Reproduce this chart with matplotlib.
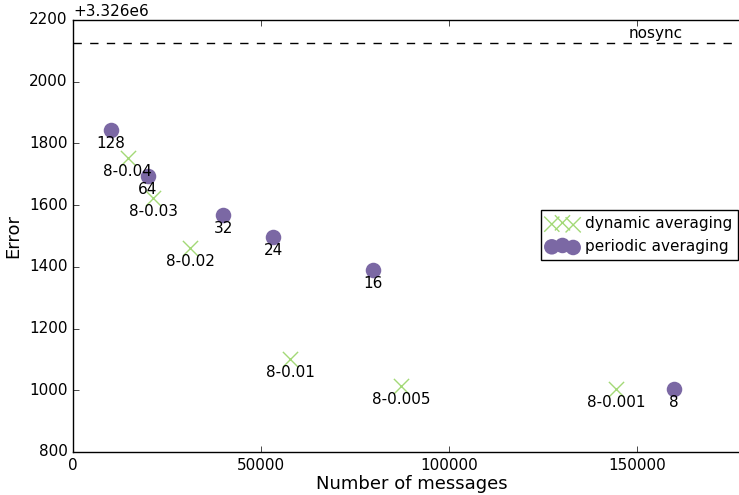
import matplotlib
matplotlib.use("Agg")
import matplotlib.pyplot as plt

plt.style.use("classic")
plt.rcParams["font.family"] = ["DejaVu Sans"]

OFFSET = 3326000

# periodic averaging: (messages, error, label)
periodic_msgs = [10000, 19900, 39900, 53200, 79800, 159800]
periodic_err = [OFFSET + v for v in [1844, 1695, 1568, 1497, 1390, 1004]]
periodic_labels = ["128", "64", "32", "24", "16", "8"]

# dynamic averaging
dynamic_msgs = [14600, 21300, 31100, 57700, 87200, 144400]
dynamic_err = [OFFSET + v for v in [1753, 1623, 1461, 1102, 1014, 1004]]
dynamic_labels = ["8-0.04", "8-0.03", "8-0.02", "8-0.01", "8-0.005", "8-0.001"]

nosync_err = OFFSET + 2126

purple = "#7b68a4"
green = "#a3d977"

fig = plt.figure(figsize=(7.39, 4.95), dpi=100, facecolor="white")
ax = fig.add_axes([73 / 739, 43 / 495, 677 / 739, 432 / 495])
ax.set_facecolor("white")

ax.scatter(dynamic_msgs, dynamic_err, marker="x", s=120, color=green,
           linewidths=1.0, label="dynamic averaging", zorder=3)
ax.scatter(periodic_msgs, periodic_err, marker="o", s=125, color=purple,
           edgecolors=purple, linewidths=0, label="periodic averaging", zorder=3)

for x, y, t in zip(periodic_msgs, periodic_err, periodic_labels):
    ax.annotate(t, (x, y), xytext=(0, -9.5), textcoords="offset points",
                ha="center", va="center", fontsize=11)
for x, y, t in zip(dynamic_msgs, dynamic_err, dynamic_labels):
    ax.annotate(t, (x, y), xytext=(0, -9.5), textcoords="offset points",
                ha="center", va="center", fontsize=11)

ax.axhline(nosync_err, color="black", linestyle="--", linewidth=1)
ax.text(155000, nosync_err + 6, "nosync", ha="center", va="bottom", fontsize=11)

ax.set_xlim(0, 180000)
ax.set_ylim(OFFSET + 800, OFFSET + 2200)
ax.set_xticks([0, 50000, 100000, 150000])
ax.ticklabel_format(axis="y", useOffset=OFFSET, style="plain")
ax.tick_params(labelsize=11)
ax.yaxis.get_offset_text().set_fontsize(11)

ax.set_xlabel("Number of messages", fontsize=13, labelpad=2)
ax.set_ylabel("Error", fontsize=13)

leg = ax.legend(loc="center right", scatterpoints=3, fontsize=11,
                bbox_to_anchor=(738 / 739, 1 - 235 / 495),
                bbox_transform=fig.transFigure, borderaxespad=0,
                handletextpad=0.45, markerscale=1.0)

fig.savefig("out.png", dpi=100, facecolor="white")
